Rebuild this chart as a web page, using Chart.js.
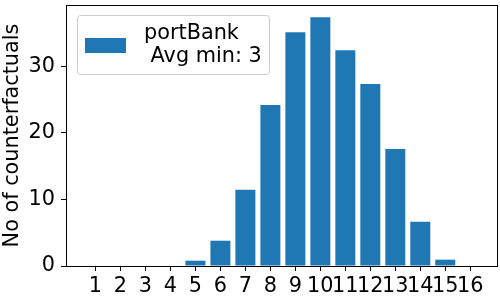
<!DOCTYPE html>
<html>
<head>
<meta charset="utf-8">
<script src="https://cdn.jsdelivr.net/npm/chart.js@4.4.1/dist/chart.umd.min.js"></script>
<style>
  html, body { margin: 0; padding: 0; background: #fff; }
  #wrap { width: 500px; height: 300px; }
</style>
</head>
<body>
<div id="wrap"><canvas id="chart"></canvas></div>
<script>
// values
const categories = [1, 2, 3, 4, 5, 6, 7, 8, 9, 10, 11, 12, 13, 14, 15, 16];
const counts = [0, 0, 0, 0, 0.8, 3.8, 11.45, 24.2, 35.15, 37.4, 32.45, 27.35, 17.6, 6.65, 0.95, 0];
const yTicks = [0, 10, 20, 30];
const legendLines = ['portBank', ' Avg min: 3'];

const FONT = 'DejaVu Sans';
const FSIZE = 20.8;
const BLUE = '#1f77b4';

// matplotlib style box round the axes + legend inside top left
const framePlugin = {
    id: 'frame',
    afterDatasetsDraw(chart) {
        const { ctx, chartArea: a } = chart;
        ctx.save();

        // legend box
        const bx = a.left + 11, by = a.top + 10, bw = 192, bh = 59;
        ctx.beginPath();
        ctx.roundRect(bx + 0.5, by + 0.5, bw, bh, 3);
        ctx.fillStyle = 'rgba(255,255,255,0.8)';
        ctx.fill();
        ctx.strokeStyle = '#cccccc';
        ctx.lineWidth = 1;
        ctx.stroke();

        ctx.fillStyle = chart.data.datasets[0].backgroundColor;
        ctx.fillRect(bx + 8, by + 23, 41, 15);

        ctx.fillStyle = '#000';
        ctx.font = FSIZE + 'px "' + FONT + '"';
        ctx.textBaseline = 'alphabetic';
        ctx.textAlign = 'left';
        legendLines.forEach((t, i) => ctx.fillText(t, bx + 67, by + 24 + i * 23));

        // axes spines
        ctx.strokeStyle = '#000';
        ctx.lineWidth = 1;
        ctx.strokeRect(Math.round(a.left) + 0.5, Math.round(a.top) + 0.5,
            Math.round(a.right - a.left), Math.round(a.bottom - a.top));
        ctx.restore();
    }
};

new Chart(document.querySelector('#chart').getContext('2d'), {
    type: 'bar',
    data: {
        datasets: [
            {
                label: legendLines.join('\n'),
                data: categories.map((c, i) => ({ x: c, y: counts[i] })),
                backgroundColor: BLUE,
                borderWidth: 0,
                categoryPercentage: 1,
                barPercentage: 0.8
            }
        ]
    },
    options: {
        responsive: true,
        maintainAspectRatio: false,
        animation: false,
        layout: { padding: { top: 5, right: 3, left: 0, bottom: 0 } },
        plugins: {
            legend: { display: false },
            tooltip: { enabled: false }
        },
        scales: {
            x: {
                type: 'linear',
                min: -0.18,
                max: 17.07,
                offset: false,
                afterBuildTicks: (s) => { s.ticks = categories.map(v => ({ value: v })); },
                afterFit: (s) => {
                    s.height = 34;
                    s.paddingLeft = 0;
                    s.paddingRight = 0;
                },
                border: { display: false },
                grid: { offset: false, drawOnChartArea: false, tickLength: 5, tickColor: '#000' },
                ticks: {
                    color: '#000',
                    font: { family: FONT, size: FSIZE },
                    padding: 3,
                    maxRotation: 0,
                    autoSkip: false
                }
            },
            y: {
                min: 0,
                max: 39.24,
                afterBuildTicks: (s) => { s.ticks = yTicks.map(v => ({ value: v })); },
                afterFit: (s) => {
                    s.width = 66;
                    s.paddingTop = 0;
                    s.paddingBottom = 0;
                },
                border: { display: false },
                grid: { drawOnChartArea: false, tickLength: 5, tickColor: '#000' },
                ticks: {
                    color: '#000',
                    font: { family: FONT, size: FSIZE },
                    padding: 6
                },
                title: {
                    display: true,
                    text: 'No of counterfactuals',
                    color: '#000',
                    font: { family: FONT, size: FSIZE },
                    padding: 0
                }
            }
        }
    },
    plugins: [framePlugin]
});
</script>
</body>
</html>
